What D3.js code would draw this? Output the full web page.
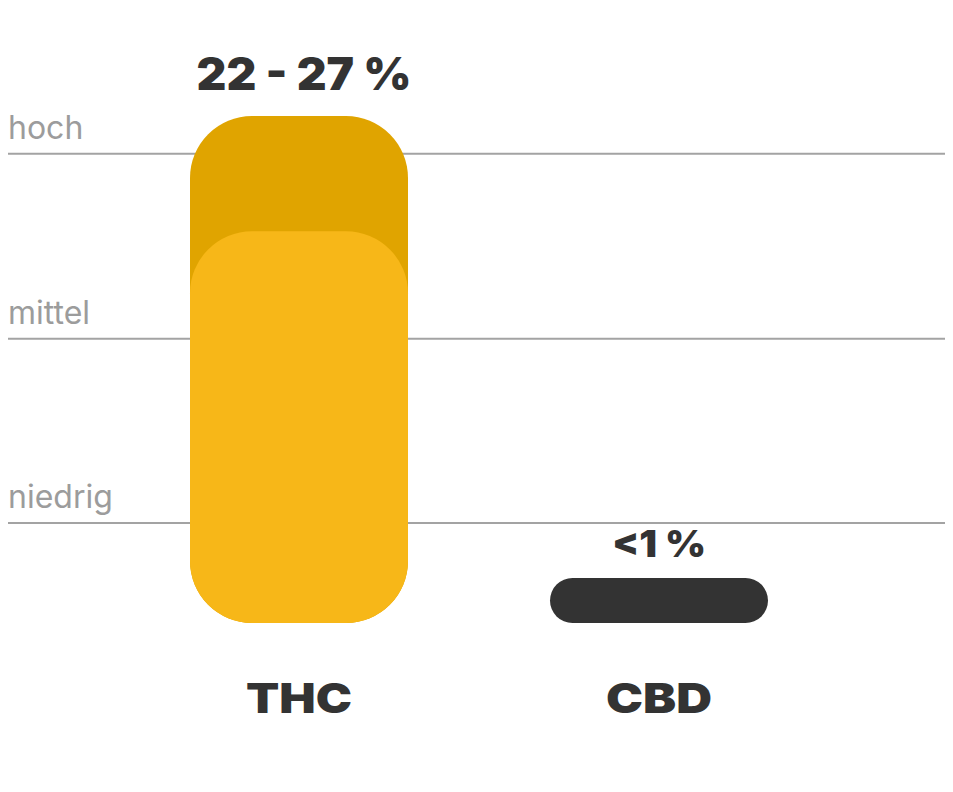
<!DOCTYPE html>
<html>
<head>
<meta charset="utf-8">
<script src="https://cdn.jsdelivr.net/npm/d3@7"></script>
<style>
  html, body { margin: 0; padding: 0; background: #ffffff; }
  svg { display: block; }
</style>
</head>
<body>
<svg id="chart" width="953" height="792"></svg>
<script>
// ---- data ----
const categories = ["THC", "CBD"];
const lowValues = [22, 0.5];        // lower end of content range (%)
const highValues = [27, 1];         // upper end of content range (%)
const valueLabels = ["22 - 27 %", "<1 %"];
const levelNames = ["niedrig", "mittel", "hoch"];
const levelValues = [9.34, 17.33, 25.36];

// ---- layout ----
const W = 953, H = 792;
const baseY = 623, topY = 116;
const barW = 218, radius = 62, minBarH = 45;
const boldFont = "Inter, 'DejaVu Sans', sans-serif";

const svg = d3.select("#chart");

const y = d3.scaleLinear().domain([5, 27]).range([baseY, topY]);
const x = d3.scalePoint().domain(categories).range([299, 659]);

// gridlines
const grid = svg.append("g");
grid.selectAll("line").data(levelValues).join("line")
  .attr("x1", 8).attr("x2", 945)
  .attr("y1", d => y(d)).attr("y2", d => y(d))
  .attr("stroke", "#a3a3a3").attr("stroke-width", 2);
grid.selectAll("text").data(levelNames).join("text")
  .attr("x", 8)
  .attr("y", (d, i) => y(levelValues[i]) - 15)
  .attr("font-family", "Inter, 'Noto Sans', sans-serif")
  .attr("font-size", 32)
  .attr("fill", "#9c9c9c")
  .text(d => d);

// bars
const rows = categories.map((c, i) => ({ c, lo: lowValues[i], hi: highValues[i], label: valueLabels[i] }));
const topOf = v => Math.min(y(Math.max(v, 5)), baseY - minBarH);

const bars = svg.append("g");
rows.forEach((r, i) => {
  const cx = x(r.c);
  if (i === 0) {
    bars.append("rect")
      .attr("x", cx - barW / 2).attr("width", barW)
      .attr("y", topOf(r.hi)).attr("height", baseY - topOf(r.hi))
      .attr("rx", radius).attr("ry", radius)
      .attr("fill", "#e0a400");
    bars.append("rect")
      .attr("x", cx - barW / 2).attr("width", barW)
      .attr("y", topOf(r.lo)).attr("height", baseY - topOf(r.lo))
      .attr("rx", radius).attr("ry", radius)
      .attr("fill", "#f7b718");
  } else {
    const t = topOf(r.hi);
    bars.append("rect")
      .attr("x", cx - barW / 2).attr("width", barW)
      .attr("y", t).attr("height", baseY - t)
      .attr("rx", (baseY - t) / 2).attr("ry", (baseY - t) / 2)
      .attr("fill", "#333333");
  }
});

// value labels
const labelSizes = [45, 37];
const labelWidths = [215, 94];
const labelDx = [5, 0];
svg.append("g").selectAll("text").data(rows).join("text")
  .attr("x", (d, i) => x(d.c) + labelDx[i])
  .attr("y", (d, i) => topOf(d.hi) - labelSizes[i] * 0.57)
  .attr("text-anchor", "middle")
  .attr("font-family", boldFont)
  .attr("font-weight", 900)
  .attr("font-size", (d, i) => labelSizes[i])
  .attr("textLength", (d, i) => labelWidths[i])
  .attr("lengthAdjust", "spacingAndGlyphs")
  .attr("fill", "#333333")
  .text(d => d.label);

// category labels
svg.append("g").selectAll("text").data(categories).join("text")
  .attr("x", d => x(d))
  .attr("y", 713)
  .attr("text-anchor", "middle")
  .attr("font-family", boldFont)
  .attr("font-weight", 900)
  .attr("font-size", 41)
  .attr("textLength", 106)
  .attr("lengthAdjust", "spacingAndGlyphs")
  .attr("fill", "#333333")
  .text(d => d);
</script>
</body>
</html>
